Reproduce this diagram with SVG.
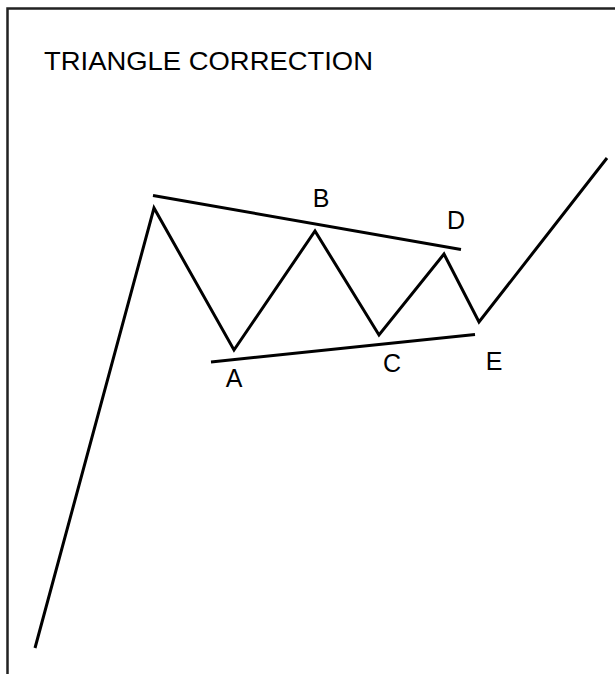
<svg xmlns="http://www.w3.org/2000/svg" width="615" height="674" viewBox="0 0 615 674">
<style>
.frame{fill:none;stroke:#222;stroke-width:2.5}
.ln{fill:none;stroke:#000;stroke-width:3;stroke-linejoin:miter;stroke-linecap:butt}
text{font-family:"Liberation Sans",Arial,sans-serif;fill:#000}
.lbl{font-size:25px;text-anchor:middle}
.title{font-size:26.5px}
</style>
<rect width="615" height="674" fill="#fff"/>
<path class="frame" d="M7.5,674 V8.5 H615"/>
<text class="title" x="44" y="69.5" textLength="329" lengthAdjust="spacingAndGlyphs">TRIANGLE CORRECTION</text>
<g id="connectors">
<polyline class="ln" points="35,648 154,208 234,350 315,231 379,335 444,254 479,322 607,158"/>
<line class="ln" x1="153" y1="195.5" x2="461" y2="249.5"/>
<line class="ln" x1="211" y1="362" x2="475" y2="334.5"/>
</g>
<g id="A"><text class="lbl" x="234" y="387">A</text></g>
<g id="B"><text class="lbl" x="321" y="207">B</text></g>
<g id="C"><text class="lbl" x="392" y="372">C</text></g>
<g id="D"><text class="lbl" x="456" y="229">D</text></g>
<g id="E"><text class="lbl" x="494" y="370">E</text></g>
</svg>
